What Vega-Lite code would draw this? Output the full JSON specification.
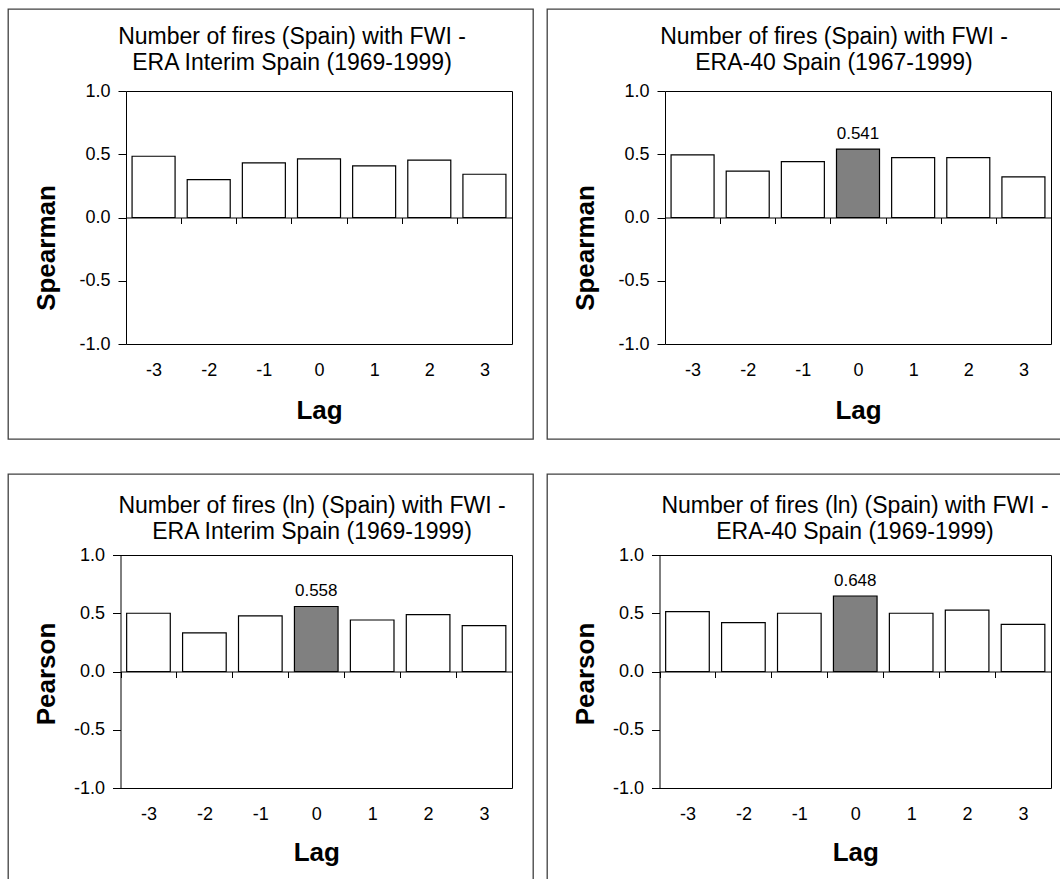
{
  "$schema": "https://vega.github.io/schema/vega-lite/v6.json",
  "padding": {"left": 7, "top": 8, "right": 0, "bottom": 0},
  "background": "white",
  "data": {"values": [
    {"panel": "p1", "lag": -3, "value": 0.484, "highlight": false},
    {"panel": "p1", "lag": -2, "value": 0.300, "highlight": false},
    {"panel": "p1", "lag": -1, "value": 0.432, "highlight": false},
    {"panel": "p1", "lag": 0, "value": 0.463, "highlight": false},
    {"panel": "p1", "lag": 1, "value": 0.408, "highlight": false},
    {"panel": "p1", "lag": 2, "value": 0.453, "highlight": false},
    {"panel": "p1", "lag": 3, "value": 0.342, "highlight": false},
    {"panel": "p2", "lag": -3, "value": 0.495, "highlight": false},
    {"panel": "p2", "lag": -2, "value": 0.366, "highlight": false},
    {"panel": "p2", "lag": -1, "value": 0.442, "highlight": false},
    {"panel": "p2", "lag": 0, "value": 0.541, "highlight": true},
    {"panel": "p2", "lag": 1, "value": 0.474, "highlight": false},
    {"panel": "p2", "lag": 2, "value": 0.474, "highlight": false},
    {"panel": "p2", "lag": 3, "value": 0.321, "highlight": false},
    {"panel": "p3", "lag": -3, "value": 0.500, "highlight": false},
    {"panel": "p3", "lag": -2, "value": 0.332, "highlight": false},
    {"panel": "p3", "lag": -1, "value": 0.477, "highlight": false},
    {"panel": "p3", "lag": 0, "value": 0.558, "highlight": true},
    {"panel": "p3", "lag": 1, "value": 0.442, "highlight": false},
    {"panel": "p3", "lag": 2, "value": 0.488, "highlight": false},
    {"panel": "p3", "lag": 3, "value": 0.393, "highlight": false},
    {"panel": "p4", "lag": -3, "value": 0.514, "highlight": false},
    {"panel": "p4", "lag": -2, "value": 0.419, "highlight": false},
    {"panel": "p4", "lag": -1, "value": 0.500, "highlight": false},
    {"panel": "p4", "lag": 0, "value": 0.648, "highlight": true},
    {"panel": "p4", "lag": 1, "value": 0.500, "highlight": false},
    {"panel": "p4", "lag": 2, "value": 0.526, "highlight": false},
    {"panel": "p4", "lag": 3, "value": 0.405, "highlight": false}
  ]},
  "vconcat": [
    {"hconcat": [
      {
        "width": 525, "height": 430,
        "title": {"text": ["Number of fires (Spain) with FWI -", "ERA Interim Spain (1969-1999)"], "dx": 21.5, "offset": -65.5},
        "transform": [{"filter": "datum.panel === 'p1'"}],
        "resolve": {"axis": {"x": "independent", "y": "independent"}},
        "layer": [
          {"mark": {"type": "bar", "width": {"band": 0.78}, "strokeWidth": 0},
           "encoding": {
             "x": {"field": "lag", "type": "ordinal", "sort": [-3, -2, -1, 0, 1, 2, 3], "scale": {"range": [118, 504], "paddingInner": 0, "paddingOuter": 0},
                   "axis": {"orient": "bottom", "offset": -221.5, "tickBand": "extent", "tickSize": 6, "labelPadding": 138, "labelAngle": 0, "title": "Lag", "titleY": 200.5, "titleBaseline": "alphabetic"}},
             "y": {"field": "value", "type": "quantitative", "scale": {"domain": [-1, 1], "range": [335, 82], "nice": false},
                   "axis": {"orient": "left", "offset": -118, "values": [-1, -0.5, 0, 0.5, 1], "format": ".1f", "labelExpr": "replace(datum.label, '\u2212', '-')", "tickSize": 8, "labelPadding": 8, "labelFlush": false, "labelOverlap": false, "title": "Spearman", "titleAngle": 270, "titleX": -72, "titleY": 238.5, "titleBaseline": "alphabetic", "titleAlign": "center"}},
             "y2": {"datum": 0},
             "fill": {"condition": {"test": "datum.highlight", "value": "#808080"}, "value": "#ffffff"}
           }},
          {"transform": [{"filter": "datum.highlight"}],
           "mark": {"type": "text", "baseline": "alphabetic", "dy": -10, "fontSize": 17, "color": "#000"},
           "encoding": {
             "x": {"field": "lag", "type": "ordinal", "sort": [-3, -2, -1, 0, 1, 2, 3], "axis": {"orient": "top", "offset": -82, "labels": false, "ticks": false, "title": null}},
             "y": {"field": "value", "type": "quantitative", "axis": {"orient": "right", "offset": -21, "labels": false, "ticks": false, "title": null}},
             "text": {"field": "value", "type": "quantitative", "format": ".3f"}
           }},
          {"mark": {"type": "bar", "width": {"band": 0.78}, "fill": "transparent", "stroke": "#000", "strokeWidth": 1.2},
           "encoding": {
             "x": {"field": "lag", "type": "ordinal", "sort": [-3, -2, -1, 0, 1, 2, 3], "axis": {"orient": "bottom", "offset": -95, "labels": false, "ticks": false, "title": null}},
             "y": {"field": "value", "type": "quantitative", "axis": null},
             "y2": {"datum": 0}
           }}
        ]
      },
      {
        "width": 525, "height": 430,
        "title": {"text": ["Number of fires (Spain) with FWI -", "ERA-40 Spain (1967-1999)"], "dx": 24.5, "offset": -65.5},
        "transform": [{"filter": "datum.panel === 'p2'"}],
        "resolve": {"axis": {"x": "independent", "y": "independent"}},
        "layer": [
          {"mark": {"type": "bar", "width": {"band": 0.78}, "strokeWidth": 0},
           "encoding": {
             "x": {"field": "lag", "type": "ordinal", "sort": [-3, -2, -1, 0, 1, 2, 3], "scale": {"range": [118, 504], "paddingInner": 0, "paddingOuter": 0},
                   "axis": {"orient": "bottom", "offset": -221.5, "tickBand": "extent", "tickSize": 6, "labelPadding": 138, "labelAngle": 0, "title": "Lag", "titleY": 200.5, "titleBaseline": "alphabetic"}},
             "y": {"field": "value", "type": "quantitative", "scale": {"domain": [-1, 1], "range": [335, 82], "nice": false},
                   "axis": {"orient": "left", "offset": -118, "values": [-1, -0.5, 0, 0.5, 1], "format": ".1f", "labelExpr": "replace(datum.label, '\u2212', '-')", "tickSize": 8, "labelPadding": 8, "labelFlush": false, "labelOverlap": false, "title": "Spearman", "titleAngle": 270, "titleX": -72, "titleY": 238.5, "titleBaseline": "alphabetic", "titleAlign": "center"}},
             "y2": {"datum": 0},
             "fill": {"condition": {"test": "datum.highlight", "value": "#808080"}, "value": "#ffffff"}
           }},
          {"transform": [{"filter": "datum.highlight"}],
           "mark": {"type": "text", "baseline": "alphabetic", "dy": -10, "fontSize": 17, "color": "#000"},
           "encoding": {
             "x": {"field": "lag", "type": "ordinal", "sort": [-3, -2, -1, 0, 1, 2, 3], "axis": {"orient": "top", "offset": -82, "labels": false, "ticks": false, "title": null}},
             "y": {"field": "value", "type": "quantitative", "axis": {"orient": "right", "offset": -21, "labels": false, "ticks": false, "title": null}},
             "text": {"field": "value", "type": "quantitative", "format": ".3f"}
           }},
          {"mark": {"type": "bar", "width": {"band": 0.78}, "fill": "transparent", "stroke": "#000", "strokeWidth": 1.2},
           "encoding": {
             "x": {"field": "lag", "type": "ordinal", "sort": [-3, -2, -1, 0, 1, 2, 3], "axis": {"orient": "bottom", "offset": -95, "labels": false, "ticks": false, "title": null}},
             "y": {"field": "value", "type": "quantitative", "axis": null},
             "y2": {"datum": 0}
           }}
        ]
      }
    ], "spacing": 12},
    {"hconcat": [
      {
        "width": 525, "height": 410,
        "title": {"text": ["Number of fires (ln) (Spain) with FWI -", "ERA Interim Spain (1969-1999)"], "dx": 41.5, "offset": -70},
        "transform": [{"filter": "datum.panel === 'p3'"}],
        "resolve": {"axis": {"x": "independent", "y": "independent"}},
        "layer": [
          {"mark": {"type": "bar", "width": {"band": 0.78}, "strokeWidth": 0},
           "encoding": {
             "x": {"field": "lag", "type": "ordinal", "sort": [-3, -2, -1, 0, 1, 2, 3], "scale": {"range": [112.5, 504], "paddingInner": 0, "paddingOuter": 0},
                   "axis": {"orient": "bottom", "offset": -212.5, "tickBand": "extent", "tickSize": 6, "labelPadding": 128, "labelAngle": 0, "title": "Lag", "titleY": 188.5, "titleBaseline": "alphabetic"}},
             "y": {"field": "value", "type": "quantitative", "scale": {"domain": [-1, 1], "range": [314, 81], "nice": false},
                   "axis": {"orient": "left", "offset": -112.5, "values": [-1, -0.5, 0, 0.5, 1], "format": ".1f", "labelExpr": "replace(datum.label, '\u2212', '-')", "tickSize": 8, "labelPadding": 8, "labelFlush": false, "labelOverlap": false, "title": "Pearson", "titleAngle": 270, "titleX": -66.5, "titleY": 199.5, "titleBaseline": "alphabetic", "titleAlign": "center"}},
             "y2": {"datum": 0},
             "fill": {"condition": {"test": "datum.highlight", "value": "#808080"}, "value": "#ffffff"}
           }},
          {"transform": [{"filter": "datum.highlight"}],
           "mark": {"type": "text", "baseline": "alphabetic", "dy": -10, "fontSize": 17, "color": "#000"},
           "encoding": {
             "x": {"field": "lag", "type": "ordinal", "sort": [-3, -2, -1, 0, 1, 2, 3], "axis": {"orient": "top", "offset": -81, "labels": false, "ticks": false, "title": null}},
             "y": {"field": "value", "type": "quantitative", "axis": {"orient": "right", "offset": -21, "labels": false, "ticks": false, "title": null}},
             "text": {"field": "value", "type": "quantitative", "format": ".3f"}
           }},
          {"mark": {"type": "bar", "width": {"band": 0.78}, "fill": "transparent", "stroke": "#000", "strokeWidth": 1.2},
           "encoding": {
             "x": {"field": "lag", "type": "ordinal", "sort": [-3, -2, -1, 0, 1, 2, 3], "axis": {"orient": "bottom", "offset": -96, "labels": false, "ticks": false, "title": null}},
             "y": {"field": "value", "type": "quantitative", "axis": null},
             "y2": {"datum": 0}
           }}
        ]
      },
      {
        "width": 525, "height": 410,
        "title": {"text": ["Number of fires (ln) (Spain) with FWI -", "ERA-40 Spain (1969-1999)"], "dx": 45.5, "offset": -70},
        "transform": [{"filter": "datum.panel === 'p4'"}],
        "resolve": {"axis": {"x": "independent", "y": "independent"}},
        "layer": [
          {"mark": {"type": "bar", "width": {"band": 0.78}, "strokeWidth": 0},
           "encoding": {
             "x": {"field": "lag", "type": "ordinal", "sort": [-3, -2, -1, 0, 1, 2, 3], "scale": {"range": [112.5, 504], "paddingInner": 0, "paddingOuter": 0},
                   "axis": {"orient": "bottom", "offset": -212.5, "tickBand": "extent", "tickSize": 6, "labelPadding": 128, "labelAngle": 0, "title": "Lag", "titleY": 188.5, "titleBaseline": "alphabetic"}},
             "y": {"field": "value", "type": "quantitative", "scale": {"domain": [-1, 1], "range": [314, 81], "nice": false},
                   "axis": {"orient": "left", "offset": -112.5, "values": [-1, -0.5, 0, 0.5, 1], "format": ".1f", "labelExpr": "replace(datum.label, '\u2212', '-')", "tickSize": 8, "labelPadding": 8, "labelFlush": false, "labelOverlap": false, "title": "Pearson", "titleAngle": 270, "titleX": -66.5, "titleY": 199.5, "titleBaseline": "alphabetic", "titleAlign": "center"}},
             "y2": {"datum": 0},
             "fill": {"condition": {"test": "datum.highlight", "value": "#808080"}, "value": "#ffffff"}
           }},
          {"transform": [{"filter": "datum.highlight"}],
           "mark": {"type": "text", "baseline": "alphabetic", "dy": -10, "fontSize": 17, "color": "#000"},
           "encoding": {
             "x": {"field": "lag", "type": "ordinal", "sort": [-3, -2, -1, 0, 1, 2, 3], "axis": {"orient": "top", "offset": -81, "labels": false, "ticks": false, "title": null}},
             "y": {"field": "value", "type": "quantitative", "axis": {"orient": "right", "offset": -21, "labels": false, "ticks": false, "title": null}},
             "text": {"field": "value", "type": "quantitative", "format": ".3f"}
           }},
          {"mark": {"type": "bar", "width": {"band": 0.78}, "fill": "transparent", "stroke": "#000", "strokeWidth": 1.2},
           "encoding": {
             "x": {"field": "lag", "type": "ordinal", "sort": [-3, -2, -1, 0, 1, 2, 3], "axis": {"orient": "bottom", "offset": -96, "labels": false, "ticks": false, "title": null}},
             "y": {"field": "value", "type": "quantitative", "axis": null},
             "y2": {"datum": 0}
           }}
        ]
      }
    ], "spacing": 12}
  ],
  "spacing": 33,
  "config": {
    "font": "Liberation Sans",
    "view": {"stroke": "#404040", "strokeWidth": 1.3},
    "axis": {"domainColor": "#000", "domainWidth": 1, "tickColor": "#000", "tickWidth": 1, "labelColor": "#000", "titleColor": "#000", "labelFont": "Liberation Sans", "titleFont": "Liberation Sans", "labelFontSize": 18, "titleFontSize": 26, "titleFontWeight": "bold", "grid": false},
    "title": {"font": "Liberation Sans", "fontSize": 23, "fontWeight": "normal", "color": "#000", "lineHeight": 26, "anchor": "middle", "frame": "group"},
    "text": {"font": "Liberation Sans"}
  }
}
